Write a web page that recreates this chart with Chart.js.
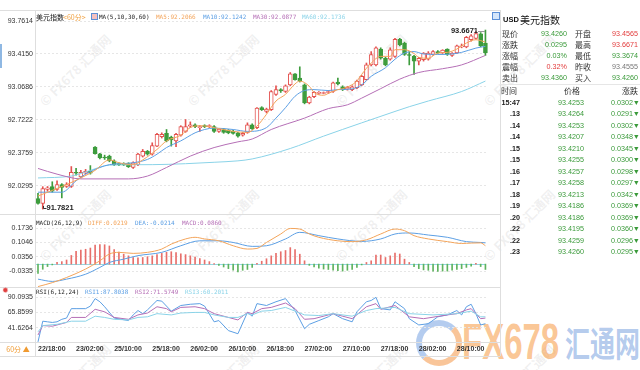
<!DOCTYPE html>
<html>
<head>
<meta charset="utf-8">
<script src="https://cdn.jsdelivr.net/npm/chart.js@4.4.1/dist/chart.umd.min.js"></script>
<style>
  html, body { margin: 0; padding: 0; background: #fff; }
  body { width: 640px; height: 370px; position: relative; overflow: hidden; font-family: "Liberation Sans", Arial, sans-serif; }
  canvas { position: absolute; left: 0; }
  .t { position: absolute; white-space: nowrap; line-height: 1; }
  .hl { position: absolute; height: 1px; background: #dedede; }
  .vl { position: absolute; width: 1px; background: #dedede; }
  .wm { position: absolute; white-space: nowrap; color: rgba(160,160,160,0.17); font: bold 13px "Noto Sans CJK SC", sans-serif; transform: translate(-50%,-50%) rotate(-45deg); }
</style>
</head>
<body>
<div id="back"></div>
<canvas id="kline" width="490" height="203" style="top:10px"></canvas>
<canvas id="macd" width="490" height="72" style="top:216px"></canvas>
<canvas id="rsi" width="490" height="72" style="top:288px"></canvas>
<div id="front"></div>
<script>
// 60 min candles, 22/18:00 .. 28/16:00
const open = [91.892,91.843,91.990,92.018,91.990,92.040,92.020,92.020,92.170,92.120,92.160,92.180,92.435,92.365,92.330,92.340,92.290,92.260,92.255,92.260,
  92.220,92.250,92.340,92.390,92.360,92.445,92.545,92.580,92.540,92.500,92.560,92.600,92.655,92.670,92.640,92.660,92.650,92.650,92.600,92.620,
  92.610,92.600,92.585,92.560,92.590,92.670,92.640,92.850,92.810,92.830,92.990,93.040,93.020,93.090,93.205,93.160,93.090,92.900,92.965,93.000,
  93.000,93.010,93.020,93.120,93.070,93.045,93.040,93.060,93.090,93.145,93.300,93.300,93.467,93.370,93.360,93.390,93.570,93.530,93.410,93.390,
  93.340,93.355,93.360,93.410,93.440,93.425,93.467,93.400,93.425,93.490,93.490,93.565,93.580,93.628,93.530];
const high = [91.948,92.018,92.020,92.070,92.080,92.050,92.060,92.230,92.210,92.190,92.200,92.240,92.440,92.370,92.350,92.350,92.300,92.270,92.270,92.270,
  92.280,92.370,92.410,92.400,92.480,92.580,92.585,92.620,92.550,92.580,92.660,92.725,92.700,92.680,92.660,92.670,92.670,92.660,92.630,92.630,
  92.620,92.610,92.590,92.590,92.690,92.680,92.850,92.860,92.845,93.030,93.080,93.050,93.090,93.220,93.210,93.280,93.100,92.970,93.020,93.020,
  93.015,93.030,93.120,93.160,93.080,93.075,93.080,93.140,93.190,93.320,93.440,93.490,93.480,93.380,93.480,93.580,93.580,93.540,93.440,93.400,
  93.380,93.430,93.440,93.450,93.450,93.460,93.470,93.430,93.510,93.520,93.600,93.620,93.650,93.640,93.6671];
const low = [91.835,91.7821,91.970,91.960,91.980,91.900,92.010,92.010,92.140,92.110,92.150,92.150,92.360,92.310,92.305,92.280,92.240,92.240,92.240,92.220,
  92.210,92.240,92.330,92.350,92.350,92.440,92.530,92.490,92.445,92.440,92.550,92.590,92.640,92.640,92.600,92.640,92.640,92.590,92.590,92.580,
  92.575,92.570,92.540,92.550,92.580,92.620,92.630,92.820,92.795,92.820,92.980,93.010,93.010,93.080,93.140,93.120,92.890,92.890,92.955,92.990,
  92.995,93.000,93.010,93.090,93.030,93.035,93.030,93.050,93.080,93.140,93.290,93.290,93.360,93.290,93.350,93.380,93.500,93.400,93.300,93.200,
  93.300,93.340,93.350,93.400,93.420,93.420,93.400,93.390,93.420,93.480,93.480,93.550,93.570,93.490,93.400];
const close = [91.843,91.997,92.005,91.970,92.040,92.010,92.040,92.170,92.160,92.170,92.180,92.160,92.365,92.320,92.320,92.290,92.250,92.250,92.248,92.230,
  92.270,92.360,92.390,92.360,92.450,92.570,92.570,92.500,92.510,92.570,92.650,92.650,92.670,92.650,92.650,92.650,92.660,92.600,92.625,92.590,
  92.585,92.580,92.550,92.580,92.670,92.630,92.845,92.830,92.835,93.020,93.040,93.025,93.080,93.205,93.145,93.130,92.900,92.960,93.010,93.010,
  93.008,93.020,93.110,93.100,93.040,93.065,93.070,93.130,93.180,93.300,93.410,93.480,93.370,93.300,93.460,93.570,93.510,93.410,93.400,93.340,
  93.370,93.425,93.425,93.440,93.425,93.455,93.410,93.425,93.500,93.500,93.590,93.607,93.630,93.500,93.426];

// moving averages (candle index -> value)
const ma5Idx  = [0,6,9,12,15,17,20,22,25,27,30,32,34,37,41,44,46,48,50,52,54,55,57,58,60,61,63,64,67,68,70,72,74,75,77,79,80,82,84,86,88,90,92,94];
const ma5     = [91.92,92.04,92.11,92.19,92.30,92.27,92.25,92.30,92.41,92.50,92.56,92.64,92.66,92.64,92.60,92.59,92.655,92.78,92.92,92.99,93.10,93.13,93.075,93.01,92.98,93.00,93.04,93.05,93.13,93.20,93.32,93.39,93.39,93.46,93.46,93.42,93.38,93.37,93.425,93.432,93.467,93.53,93.565,93.54];
const ma10Idx = [0,5,8,10,13,15,20,23,25,27,30,33,35,37,41,44,48,50,52,54,56,58,61,63,66,68,70,73,75,77,79,81,84,87,89,92,94];
const ma10    = [91.96,91.96,92.08,92.15,92.22,92.25,92.27,92.305,92.36,92.43,92.50,92.585,92.62,92.635,92.62,92.60,92.64,92.74,92.85,92.97,93.03,93.04,93.03,93.04,93.047,93.09,93.18,93.27,93.36,93.425,93.44,93.415,93.41,93.415,93.432,93.477,93.495];
const ma30Idx = [0,4,9,19,23,27,32,37,42,45,49,56,61,65,68,72,76,80,85,89,94];
const ma30    = [92.21,92.15,92.10,92.10,92.13,92.22,92.34,92.43,92.49,92.52,92.62,92.74,92.84,92.88,92.95,93.05,93.15,93.22,93.26,93.30,93.40];
const ma60Idx = [0,7,11,15,24,31,37,42,45,53,60,68,75,78,82,89,94];
const ma60    = [92.11,92.13,92.19,92.245,92.25,92.26,92.275,92.29,92.31,92.42,92.55,92.69,92.81,92.86,92.92,93.02,93.13];

// MACD(26,12,9)
const macdHist = [-0.045,-0.025,-0.012,-0.004,0.008,0.012,0.020,0.042,0.062,0.068,0.072,0.078,0.092,0.095,0.094,0.088,0.070,0.058,0.048,0.040,
  0.032,0.030,0.032,0.036,0.040,0.046,0.052,0.057,0.060,0.056,0.050,0.046,0.040,0.034,0.027,0.020,0.012,0.003,-0.006,-0.014,
  -0.022,-0.030,-0.038,-0.030,-0.026,-0.016,0.004,0.014,0.026,0.040,0.052,0.060,0.066,0.080,0.070,0.048,0.016,-0.006,-0.014,-0.020,
  -0.024,-0.026,-0.030,-0.032,-0.034,-0.030,-0.026,-0.016,-0.004,0.008,0.016,0.044,0.044,0.032,0.040,0.053,0.049,0.024,0.008,-0.012,
  -0.022,-0.028,-0.030,-0.034,-0.036,-0.034,-0.034,-0.030,-0.026,-0.022,-0.016,-0.010,0.004,-0.012,-0.026];
const diffIdx = [0,3,6,10,13,15,17,20,23,26,28,31,33,35,38,41,44,46,48,51,53,55,57,59,63,66,69,72,75,77,79,82,86,89,91,93,94];
const diff    = [-0.109,-0.090,-0.065,-0.024,0.016,0.049,0.057,0.052,0.057,0.073,0.097,0.122,0.130,0.122,0.113,0.089,0.073,0.076,0.105,0.146,0.173,0.170,0.146,0.130,0.113,0.109,0.118,0.146,0.170,0.162,0.138,0.122,0.109,0.100,0.102,0.103,0.089];
const deaIdx  = [0,3,6,10,13,15,18,21,26,30,34,38,41,45,48,52,55,59,63,68,72,75,78,82,86,90,93,94];
const dea     = [-0.073,-0.084,-0.073,-0.049,-0.016,0.008,0.024,0.041,0.057,0.089,0.113,0.113,0.105,0.086,0.089,0.122,0.154,0.138,0.122,0.110,0.122,0.146,0.151,0.141,0.130,0.109,0.105,0.103];

// RSI(6,12,24)
const rsi1Idx = [0,1,2,3,4,5,6,7,8,10,11,12,13,14,16,19,20,21,22,23,25,26,28,30,32,34,35,37,38,40,42,44,45,46,48,50,52,54,56,57,59,61,62,64,66,67,69,70,71,72,74,75,77,78,80,82,84,86,88,89,90,91,92,93,94];
const rsi1    = [19,52,51,50,51,55,57,72,72,72,76,88,83,75,57,53,62,69,64,70,85,84,68,77,79,80,76,51,53,37,32,66,60,80,77,83,88,69,40,47,53,59,64,56,51,67,83,85,90,72,70,83,72,56,46,48,59,62,69,62,75,79,64,46,48];
const rsi2Idx = [0,1,3,4,6,7,10,12,14,16,19,21,23,25,27,28,30,33,35,37,40,42,44,45,47,49,52,54,56,58,62,66,69,71,72,75,78,81,86,88,90,91,93,94];
const rsi2    = [30,45,44,46,50,58,58,71,67,58,55,62,65,75,72,67,74,75,72,64,58,54,66,64,72,74,81,72,55,56,64,56,75,80,71,77,59,56,62,64,70,72,56,57];
const rsi3Idx = [0,1,4,7,10,12,14,16,19,21,23,25,28,30,33,35,37,40,42,44,45,47,49,52,54,56,59,62,66,69,71,75,78,83,88,91,93,94];
const rsi3    = [35,45,47,52,52,60,58,55,54,58,59,64,62,65,66,66,62,58,58,64,62,68,69,74,68,62,61,64,60,69,72,74,64,62,64,68,59,59];

const priceTicks = [93.7614, 93.4150, 93.0686, 92.7222, 92.3759, 92.0295];
const macdTicks  = [0.1736, 0.1046, 0.0356, -0.0335];
const rsiTicks   = [90.0935, 65.8599, 41.6264];
const timeTickIdx = [0, 8, 16, 24, 32, 40, 48, 56, 64, 72, 80, 88];
const timeLabels  = ['22/18:00','23/02:00','25/10:00','25/18:00','26/02:00','26/10:00','26/18:00','27/02:00','27/10:00','27/18:00','28/02:00','28/10:00'];

const quoteRows = [
  ['现价','93.4260','g','开盘','93.4565','r'],
  ['涨跌','0.0295','g','最高','93.6671','r'],
  ['涨幅','0.03%','g','最低','93.3674','g'],
  ['震幅','0.32%','r','昨收','93.4555','n'],
  ['卖出','93.4360','g','买入','93.4260','g']
];
const tickTimes   = ['15:47','.13','.14','.14','.15','.15','.16','.17','.18','.19','.20','.22','.22','.23'];
const tickPrices  = ['93.4253','93.4264','93.4253','93.4207','93.4210','93.4255','93.4257','93.4258','93.4213','93.4186','93.4186','93.4195','93.4259','93.4260'];
const tickChanges = ['0.0302','0.0291','0.0302','0.0348','0.0345','0.0300','0.0298','0.0297','0.0342','0.0369','0.0369','0.0360','0.0296','0.0295'];

const UP = '#e4524f', DOWN = '#3d9c3d';
const C5 = '#f3a45a', C10 = '#5c9fe4', C30 = '#b56fb6', C60 = '#8ad3e8';
const X_MIN = -0.42, X_MAX = 94.54;
const idx = close.map((_, i) => i);
const pts = (xs, ys) => xs.map((x, k) => ({x: x, y: ys[k]}));

function xAxis() {
  return { type: 'linear', min: X_MIN, max: X_MAX, offset: false, display: false };
}
function yAxis(min, max, ticks, digits) {
  return {
    type: 'linear', min: min, max: max, position: 'left',
    afterBuildTicks: s => { s.ticks = ticks.map(v => ({value: v})); },
    afterFit: s => { s.width = 36; s.paddingTop = 0; s.paddingBottom = 0; },
    ticks: { callback: v => v.toFixed(digits), color: '#333', padding: 3, font: {size: 7, family: 'Liberation Sans'} },
    grid: { color: '#e6e6e6', drawTicks: false },
    border: { display: false, dash: [2, 2] }
  };
}
function line(data, color, smooth) {
  return { type: 'line', data: data, borderColor: color, borderWidth: 1, pointRadius: 0,
    cubicInterpolationMode: smooth ? 'monotone' : 'default', tension: 0, order: 0 };
}
const base = {
  responsive: false, animation: false, events: [],
  layout: { padding: { left: 0, right: 2, top: 0, bottom: 0 } },
  plugins: { legend: { display: false }, tooltip: { enabled: false } }
};

// high / low markers
const markPlugin = {
  id: 'marks',
  afterDatasetsDraw(chart) {
    const {ctx} = chart, x = chart.scales.x, y = chart.scales.y;
    const hi = Math.max(...high), iHi = high.indexOf(hi);
    const lo = Math.min(...low), iLo = low.indexOf(lo);
    ctx.save();
    ctx.font = 'bold 7.5px "Liberation Sans"';
    ctx.fillStyle = '#222'; ctx.strokeStyle = '#999'; ctx.lineWidth = 1;
    let px = Math.round(x.getPixelForValue(iHi)), py = Math.round(y.getPixelForValue(hi));
    ctx.beginPath(); ctx.moveTo(px - 7, py + 1.5); ctx.lineTo(px, py + 1.5); ctx.stroke();
    ctx.textAlign = 'right'; ctx.textBaseline = 'middle';
    ctx.fillText(hi.toFixed(4), px - 7, py + 0.5);
    px = Math.round(x.getPixelForValue(iLo)) + 0.5; py = Math.round(y.getPixelForValue(lo));
    ctx.strokeStyle = '#333';
    ctx.beginPath(); ctx.moveTo(px, py - 3); ctx.lineTo(px, py - 0.5); ctx.lineTo(px + 3, py - 0.5); ctx.stroke();
    ctx.textAlign = 'left';
    ctx.fillText(lo.toFixed(4), px + 3, py - 1);
    ctx.restore();
  }
};
const zeroPlugin = {
  id: 'zero',
  beforeDatasetsDraw(chart) {
    const {ctx, chartArea} = chart, py = Math.round(chart.scales.y.getPixelForValue(0)) + 0.5;
    ctx.save(); ctx.strokeStyle = '#92d9e3'; ctx.lineWidth = 1;
    ctx.beginPath(); ctx.moveTo(chartArea.left, py); ctx.lineTo(chartArea.right - 2, py); ctx.stroke();
    ctx.restore();
  }
};

new Chart(document.getElementById('kline'), {
  type: 'bar',
  data: { datasets: [
    line(pts(ma5Idx, ma5), C5, true),
    line(pts(ma10Idx, ma10), C10, true),
    line(pts(ma30Idx, ma30), C30, true),
    line(pts(ma60Idx, ma60), C60, true),
    { data: idx.map(i => ({x: i, y: [open[i], close[i]]})), grouped: false, barThickness: 4, borderWidth: 1, borderSkipped: false,
      backgroundColor: idx.map(i => close[i] >= open[i] ? '#ffffff' : DOWN),
      borderColor: idx.map(i => close[i] >= open[i] ? UP : DOWN), order: 2 },
    { data: idx.map(i => ({x: i, y: [low[i], high[i]]})), grouped: false, barThickness: 1,
      backgroundColor: idx.map(i => close[i] >= open[i] ? UP : DOWN), order: 3 }
  ] },
  options: Object.assign({}, base, { scales: { x: xAxis(), y: yAxis(91.741, 93.878, priceTicks, 4) } }),
  plugins: [markPlugin]
});

new Chart(document.getElementById('macd'), {
  type: 'bar',
  data: { datasets: [
    line(pts(diffIdx, diff), C5, true),
    line(pts(deaIdx, dea), C10, true),
    { data: idx.map(i => ({x: i, y: macdHist[i]})), barThickness: 1, order: 2,
      backgroundColor: macdHist.map(v => v >= 0 ? '#e76f6b' : '#5fb35f') }
  ] },
  options: Object.assign({}, base, { scales: { x: xAxis(), y: yAxis(-0.1159, 0.2333, macdTicks, 4) } }),
  plugins: [zeroPlugin]
});

const rsiX = {
  type: 'linear', min: X_MIN, max: X_MAX, offset: false, position: 'bottom',
  afterBuildTicks: s => { s.ticks = timeTickIdx.map(v => ({value: v})); },
  afterFit: s => { s.height = 18; s.paddingLeft = 0; s.paddingRight = 0; },
  ticks: { autoSkip: false, maxRotation: 0, align: 'start', padding: 3, color: '#333',
    font: {size: 7, family: 'Liberation Sans', weight: 'bold'},
    callback: v => timeLabels[timeTickIdx.indexOf(v)] },
  grid: { display: false, drawTicks: false }, border: { display: false }
};
new Chart(document.getElementById('rsi'), {
  type: 'line',
  data: { datasets: [
    line(pts(rsi3Idx, rsi3), C60, false),
    line(pts(rsi2Idx, rsi2), C30, false),
    line(pts(rsi1Idx, rsi1), C10, false)
  ] },
  options: Object.assign({}, base, { scales: { x: rsiX, y: yAxis(18.82, 104.92, rsiTicks, 4) } })
});

// ---- decoration & text ----
const back = document.getElementById('back'), front = document.getElementById('front');
function el(parent, cls, css, txt) {
  const d = document.createElement('div');
  d.className = cls; d.style.cssText = css;
  if (txt !== undefined) d.textContent = txt;
  parent.appendChild(d); return d;
}
function txt(s, x, y, align, css) {
  const tx = align === 'right' ? '-100%' : align === 'center' ? '-50%' : '0';
  return el(front, 't', `left:${x}px;top:${y}px;transform:translate(${tx},-50%);` + (css || ''), s);
}

// watermarks
[[75, 70], [223, 70], [371, 70], [519, 70], [75, 225], [223, 225], [371, 225], [519, 225], [75, 380], [223, 380], [371, 380], [519, 380]]
  .forEach(p => el(back, 'wm', `left:${p[0]}px;top:${p[1]}px;`, '© FX678 汇通网'));
el(back, 't', 'left:416px;top:320px;width:34px;height:34px;border-radius:50%;border:6px solid rgba(90,145,220,0.45);border-right-color:rgba(245,150,70,0.55);border-bottom-color:rgba(245,150,70,0.55);');
el(back, 't', 'left:462px;top:314px;font:bold 33px "Liberation Sans";color:rgba(247,150,60,0.55);transform-origin:0 0;transform:scaleY(1.5);', 'FX678');
el(back, 't', 'left:565px;top:316px;font:bold 25px "Noto Sans CJK SC";color:rgba(90,140,215,0.45);transform-origin:0 0;transform:scaleY(1.4);', '汇通网');

// frame lines
el(front, 'hl', 'left:0;top:10px;width:500px;');
el(front, 'hl', 'left:0;top:214px;width:500px;');
el(front, 'hl', 'left:0;top:287px;width:500px;');
el(front, 'hl', 'left:0;top:342px;width:500px;');
el(front, 'hl', 'left:0;top:356px;width:500px;');
el(front, 'vl', 'left:35px;top:10px;height:346px;');
el(front, 'vl', 'left:500px;top:10px;height:346px;');
el(front, 't', 'left:0;top:44px;width:2px;height:24px;background:#8fb8e3;');

// panel legends
const mono = 'font-family:"DejaVu Sans Mono",monospace;font-size:6px;';
txt('美元指数', 36, 16.5, 'left', 'font:7px "Noto Sans CJK SC";color:#111;');
txt('<60分>', 63, 16.5, 'left', 'font:7px "Noto Sans CJK SC";color:#f0a040;');
el(front, 't', 'left:91px;top:13px;width:5px;height:5px;border:1px solid #5c8fd6;background:#f3c0c0;');
txt('MA(5,10,30,60)', 99, 16.5, 'left', mono + 'color:#222;');
txt('MA5:92.2066', 156, 16.5, 'left', mono + 'color:' + C5);
txt('MA10:92.1242', 203, 16.5, 'left', mono + 'color:' + C10);
txt('MA30:92.0877', 253, 16.5, 'left', mono + 'color:' + C30);
txt('MA60:92.1736', 302, 16.5, 'left', mono + 'color:' + C60);

txt('MACD(26,12,9)', 36, 222.5, 'left', mono + 'color:#222;');
txt('DIFF:0.0219', 88, 222.5, 'left', mono + 'color:' + C5);
txt('DEA:-0.0214', 135, 222.5, 'left', mono + 'color:' + C10);
txt('MACD:0.0860', 182, 222.5, 'left', mono + 'color:' + C30);

txt('✹', 2, 290, 'left', 'font:8px "DejaVu Sans";color:#e04040;');
txt('RSI(6,12,24)', 36, 291.5, 'left', mono + 'color:#222;');
txt('RSI1:87.8038', 85, 291.5, 'left', mono + 'color:' + C10);
txt('RSI2:71.5749', 135, 291.5, 'left', mono + 'color:' + C30);
txt('RSI3:60.2011', 185, 291.5, 'left', mono + 'color:' + C60);

txt('60分 ▲', 18, 349, 'center', 'font:7px "Noto Sans CJK SC";color:#f09a30;');

// right quote panel
const col = {g: '#3a9a3a', r: '#e23c3c', n: '#777'};
el(front, 't', 'left:492px;top:12px;width:6px;height:6px;border:1px solid #5c8fd6;background:#d5e6fa;');
txt('USD', 503, 19, 'left', 'font:bold 7.5px "Liberation Sans";color:#111;');
txt('美元指数', 520, 18.5, 'left', 'font:10px "Noto Sans CJK SC";color:#111;');
const cjk = 'font:8px "Noto Sans CJK SC";color:#333;';
const num = 'font:7.2px "Liberation Sans";';
quoteRows.forEach((r, k) => {
  const y = 33.3 + k * 10.9;
  txt(r[0], 502, y, 'left', cjk);
  txt(r[1], 567, y, 'right', num + 'color:' + col[r[2]]);
  txt(r[3], 575, y, 'left', cjk);
  txt(r[4], 638, y, 'right', num + 'color:' + col[r[5]]);
});
el(front, 'hl', 'left:500px;top:84px;width:140px;background:#e6e6e6;');
txt('时间', 501, 89.7, 'left', cjk);
txt('价格', 572, 89.7, 'center', cjk);
txt('涨跌', 638, 89.7, 'right', cjk);
tickTimes.forEach((t, k) => {
  const y = 101.7 + k * 11.5;
  txt(t, 520, y, 'right', 'font:bold 7.2px "Liberation Sans";color:#222;');
  txt(tickPrices[k], 584, y, 'right', num + 'color:' + col.g);
  txt(tickChanges[k] + '▼', 640, y, 'right', num + 'color:' + col.g);
});
</script>
</body>
</html>
